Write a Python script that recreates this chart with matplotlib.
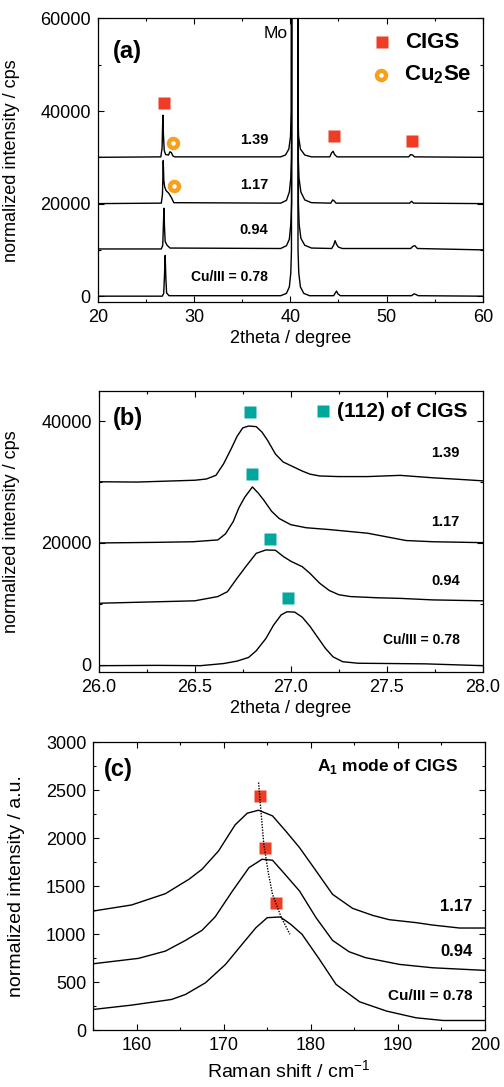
import matplotlib
matplotlib.use("Agg")
import matplotlib.pyplot as plt
from matplotlib.ticker import MultipleLocator, FormatStrFormatter

plt.rcParams['font.family'] = ['Liberation Sans', 'DejaVu Sans']
plt.rcParams['mathtext.fontset'] = 'custom'
plt.rcParams['mathtext.rm'] = 'Liberation Sans'
plt.rcParams['mathtext.bf'] = 'Liberation Sans:bold'

RED = '#ee3d24'
ORANGE = '#f8a01c'
TEAL = '#00a79d'

# ---- (a) XRD overview, one x/y list per Cu/III ratio ----
a078_x = [20, 26.7, 26.85, 26.93, 27.0, 27.07, 27.15, 27.4, 39.0, 39.6, 39.9, 40.05, 40.12, 40.45,
          40.8, 40.88, 41.05, 41.4, 42.0, 44.5, 44.65, 44.8, 44.95, 45.2, 52.6, 52.85, 53.0, 53.3, 60]
a078_y = [0, 0, 600, 4500, 8800, 4000, 700, 100, 100, 600, 2000, 5000, 10000, 1000000,
          10000, 5000, 2000, 600, 100, 100, 600, 1100, 500, 100, 100, 500, 400, 100, 0]

a094_x = [20, 26.6, 26.75, 26.82, 26.87, 26.93, 27.0, 27.2, 27.5, 39.0, 39.6, 39.9, 40.05, 40.14,
          40.5, 40.84, 40.92, 41.1, 41.5, 42.2, 44.3, 44.5, 44.65, 44.8, 45.0, 45.4, 52.5, 52.75,
          52.95, 53.2, 60]
a094_y = [10200, 10200, 11000, 15500, 19000, 15000, 11800, 11000, 10400, 10300, 10900, 12300, 15500,
          20000, 1000000, 20000, 15500, 12500, 11000, 10400, 10300, 11000, 12000, 11200, 10600, 10300,
          10300, 10800, 10900, 10300, 10000]

a117_x = [20, 26.6, 26.72, 26.8, 26.86, 26.95, 27.1, 27.35, 27.65, 27.9, 39.0, 39.6, 39.9, 40.05,
          40.13, 40.48, 40.82, 40.9, 41.1, 41.5, 42.2, 44.2, 44.4, 44.55, 44.75, 52.4, 52.6, 52.8, 60]
a117_y = [20000, 20100, 22000, 29300, 25000, 23600, 22800, 22300, 21300, 20200, 20100, 20700, 22500,
          25500, 30000, 1000000, 30000, 25500, 22500, 20800, 20200, 20100, 20800, 20600, 20100, 20100,
          20500, 20100, 20000]

a139_x = [20, 26.55, 26.68, 26.76, 26.82, 26.9, 27.05, 27.35, 27.5, 27.65, 27.8, 28.0, 39.0, 39.5,
          39.85, 40.02, 40.1, 40.45, 40.78, 40.86, 41.05, 41.5, 42.2, 44.1, 44.3, 44.45, 44.6, 44.85,
          52.3, 52.5, 52.7, 52.9, 60]
a139_y = [30000, 30100, 32000, 39100, 35000, 31500, 30600, 30500, 31200, 31000, 30300, 30100, 30100,
          30500, 31800, 34500, 40000, 1000000, 40000, 34500, 31800, 30500, 30100, 30100, 31000, 31300,
          30600, 30100, 30100, 30600, 30500, 30100, 30000]

cigs_a_x = [26.86, 44.59, 52.59]
cigs_a_y = [41650, 34550, 33480]
cu2se_x = [27.86, 27.93]
cu2se_y = [33100, 23800]

# ---- (b) (112) reflection ----
b139_x = [26.0, 26.2, 26.4, 26.5, 26.56, 26.61, 26.65, 26.69, 26.72, 26.75, 26.78, 26.82, 26.85,
          26.88, 26.92, 26.96, 27.0, 27.06, 27.1, 27.15, 27.25, 27.4, 27.57, 27.74, 27.9, 28.0]
b139_y = [30050, 30000, 30200, 30300, 30500, 31100, 33000, 35500, 37500, 38900, 39200, 39100, 38200,
          36800, 34600, 33300, 32700, 31800, 31300, 31000, 30900, 30900, 31100, 30700, 30400, 30200]

b117_x = [26.0, 26.3, 26.49, 26.62, 26.66, 26.7, 26.73, 26.76, 26.8, 26.83, 26.86, 26.9, 26.94,
          27.0, 27.08, 27.2, 27.3, 27.4, 27.5, 27.6, 27.74, 28.0]
b117_y = [20000, 20100, 20200, 20500, 21500, 23500, 25800, 27500, 29200, 28200, 27000, 25200, 24000,
          23000, 22500, 22200, 21900, 21600, 21000, 20400, 20200, 20050]

b094_x = [26.0, 26.25, 26.5, 26.62, 26.67, 26.72, 26.77, 26.82, 26.87, 26.92, 26.96, 27.0, 27.06,
          27.1, 27.15, 27.2, 27.25, 27.31, 27.45, 27.57, 27.74, 28.0]
b094_y = [10100, 10300, 10500, 11200, 12000, 14200, 16300, 18300, 18850, 18800, 17800, 17000, 16100,
          15000, 13400, 12200, 11500, 11200, 11000, 10900, 10650, 10500]

b078_x = [26.0, 26.3, 26.53, 26.65, 26.72, 26.78, 26.82, 26.87, 26.91, 26.95, 26.98, 27.02, 27.06,
          27.1, 27.14, 27.18, 27.22, 27.27, 27.35, 27.7, 28.0]
b078_y = [-150, -100, -150, 200, 600, 1200, 2300, 4300, 6500, 8200, 8700, 8650, 7800,
          6300, 4500, 2700, 1300, 500, 250, 150, -150]

peak_b_x = [26.79, 26.80, 26.89, 26.985]
peak_b_y = [41500, 31250, 20700, 10900]

# ---- (c) Raman A1 mode ----
c117_x = [155, 159.4, 163.3, 166, 167.5, 169.4, 171.3, 172.7, 174, 175.6, 177.1, 178.7, 180.2, 182.5,
          184.8, 187.1, 189, 192.1, 194, 197.1, 200]
c117_y = [1244, 1307, 1425, 1575, 1679, 1870, 2141, 2263, 2294, 2235, 2079, 1905, 1714, 1418,
          1272, 1199, 1154, 1123, 1098, 1067, 1067]

c094_x = [155, 160.2, 163.3, 165.6, 167.5, 169, 171, 172.9, 174.4, 175.6, 176.7, 178.7, 180.6, 182.5,
          184.4, 186.3, 190.2, 194, 200]
c094_y = [695, 751, 827, 938, 1043, 1182, 1453, 1696, 1783, 1773, 1661, 1453, 1175, 938,
          820, 758, 688, 653, 626]

c078_x = [155, 159.4, 164, 165.6, 167.9, 170.2, 172.1, 173.7, 175, 176.5, 177.7, 179, 181, 182.9,
          185.6, 188.7, 192.1, 195.2, 200]
c078_y = [219, 264, 323, 375, 497, 688, 897, 1071, 1175, 1182, 1105, 1001, 740, 480,
          299, 202, 132, 104, 104]

peak_c_x = [174.2, 174.7, 176.0]
peak_c_y = [2437, 1898, 1324]
trend_x = [174.0, 174.3, 174.6, 175.1, 175.6, 176.6, 177.6]
trend_y = [2583, 2250, 1940, 1650, 1418, 1180, 1001]


def style_axes(ax):
    for s in ax.spines.values():
        s.set_linewidth(0.9)
    ax.tick_params(which='both', direction='in', top=True, right=True, labelsize=13, width=0.8)
    ax.tick_params(which='major', length=4, pad=5)
    ax.tick_params(which='minor', length=2.5)


fig = plt.figure(figsize=(5.04, 10.87), dpi=100)
lw = 1.0

# ---------------- (a) ----------------
ax = fig.add_axes([0.194, 0.722, 0.764, 0.261])
for xs, ys in [(a078_x, a078_y), (a094_x, a094_y), (a117_x, a117_y), (a139_x, a139_y)]:
    ax.plot(xs, ys, color='black', lw=lw)
ax.plot(cigs_a_x, cigs_a_y, 's', color=RED, ms=8.5, mec='none')
ax.plot(cu2se_x, cu2se_y, 'o', mfc='white', mec=ORANGE, ms=6.5, mew=3.2)
ax.plot([49.5], [54900], 's', color=RED, ms=8.5, mec='none')
ax.plot([49.4], [47700], 'o', mfc='white', mec=ORANGE, ms=6.5, mew=3.2)
ax.text(51.9, 54900, 'CIGS', fontsize=16, fontweight='bold', va='center')
ax.text(51.85, 47900, r'Cu$_\mathbf{2}$Se', fontsize=16, fontweight='bold', va='center')
ax.text(39.7, 56800, 'Mo', fontsize=12.5, ha='right', va='center')
ax.text(21.6, 52900, '(a)', fontsize=17, fontweight='bold', va='center')
ax.text(37.7, 33700, '1.39', fontsize=10.5, fontweight='bold', ha='right', va='center')
ax.text(37.7, 24100, '1.17', fontsize=10.5, fontweight='bold', ha='right', va='center')
ax.text(37.7, 14300, '0.94', fontsize=10.5, fontweight='bold', ha='right', va='center')
ax.text(37.7, 4150, 'Cu/III = 0.78', fontsize=10, fontweight='bold', ha='right', va='center')
ax.set_xlim(20, 60)
ax.set_ylim(-1300, 60000)
ax.xaxis.set_major_locator(MultipleLocator(10))
ax.xaxis.set_minor_locator(MultipleLocator(5))
ax.yaxis.set_major_locator(MultipleLocator(20000))
ax.yaxis.set_minor_locator(MultipleLocator(10000))
style_axes(ax)
ax.set_xlabel('2theta / degree', fontsize=13, labelpad=3)
ax.set_ylabel('normalized intensity / cps', fontsize=13)
ax.yaxis.set_label_coords(-0.203, 0.5)

# ---------------- (b) ----------------
ax = fig.add_axes([0.196, 0.382, 0.762, 0.258])
for xs, ys in [(b139_x, b139_y), (b117_x, b117_y), (b094_x, b094_y), (b078_x, b078_y)]:
    ax.plot(xs, ys, color='black', lw=lw)
ax.plot(peak_b_x, peak_b_y, 's', color=TEAL, ms=9, mec='none')
ax.plot([27.17], [41600], 's', color=TEAL, ms=9, mec='none')
ax.text(27.24, 41600, '(112) of CIGS', fontsize=15, fontweight='bold', va='center')
ax.text(26.075, 40400, '(b)', fontsize=17, fontweight='bold', va='center')
ax.text(27.88, 34700, '1.39', fontsize=10.5, fontweight='bold', ha='right', va='center')
ax.text(27.88, 23400, '1.17', fontsize=10.5, fontweight='bold', ha='right', va='center')
ax.text(27.88, 13800, '0.94', fontsize=10.5, fontweight='bold', ha='right', va='center')
ax.text(27.88, 4100, 'Cu/III = 0.78', fontsize=10, fontweight='bold', ha='right', va='center')
ax.set_xlim(26, 28)
ax.set_ylim(-1150, 44900)
ax.xaxis.set_major_locator(MultipleLocator(0.5))
ax.xaxis.set_minor_locator(MultipleLocator(0.25))
ax.xaxis.set_major_formatter(FormatStrFormatter('%.1f'))
ax.yaxis.set_major_locator(MultipleLocator(20000))
ax.yaxis.set_minor_locator(MultipleLocator(10000))
style_axes(ax)
ax.set_xlabel('2theta / degree', fontsize=13, labelpad=3)
ax.set_ylabel('normalized intensity / cps', fontsize=13)
ax.yaxis.set_label_coords(-0.206, 0.5)

# ---------------- (c) ----------------
ax = fig.add_axes([0.185, 0.052, 0.777, 0.265])
for xs, ys in [(c117_x, c117_y), (c094_x, c094_y), (c078_x, c078_y)]:
    ax.plot(xs, ys, color='black', lw=lw)
ax.plot(peak_c_x, peak_c_y, 's', color=RED, ms=9, mec='none')
ax.plot(trend_x, trend_y, color='black', lw=1.0, linestyle=(0, (1, 1)))
ax.text(156.2, 2720, '(c)', fontsize=17, fontweight='bold', va='center')
ax.text(196.9, 2746, r'A$_\mathbf{1}$ mode of CIGS', fontsize=12.5, fontweight='bold',
        ha='right', va='center')
ax.text(198.6, 1290, '1.17', fontsize=12, fontweight='bold', ha='right', va='center')
ax.text(198.6, 827, '0.94', fontsize=12, fontweight='bold', ha='right', va='center')
ax.text(198.6, 358, 'Cu/III = 0.78', fontsize=11, fontweight='bold', ha='right', va='center')
ax.set_xlim(155, 200)
ax.set_ylim(0, 3000)
ax.xaxis.set_major_locator(MultipleLocator(10))
ax.xaxis.set_minor_locator(MultipleLocator(5))
ax.yaxis.set_major_locator(MultipleLocator(500))
ax.yaxis.set_minor_locator(MultipleLocator(250))
style_axes(ax)
ax.set_xlabel('Raman shift / cm$^{-1}$', fontsize=14, labelpad=4)
ax.set_ylabel('normalized intensity / a.u.', fontsize=14)
ax.yaxis.set_label_coords(-0.173, 0.5)

fig.savefig('out.png', dpi=100)
